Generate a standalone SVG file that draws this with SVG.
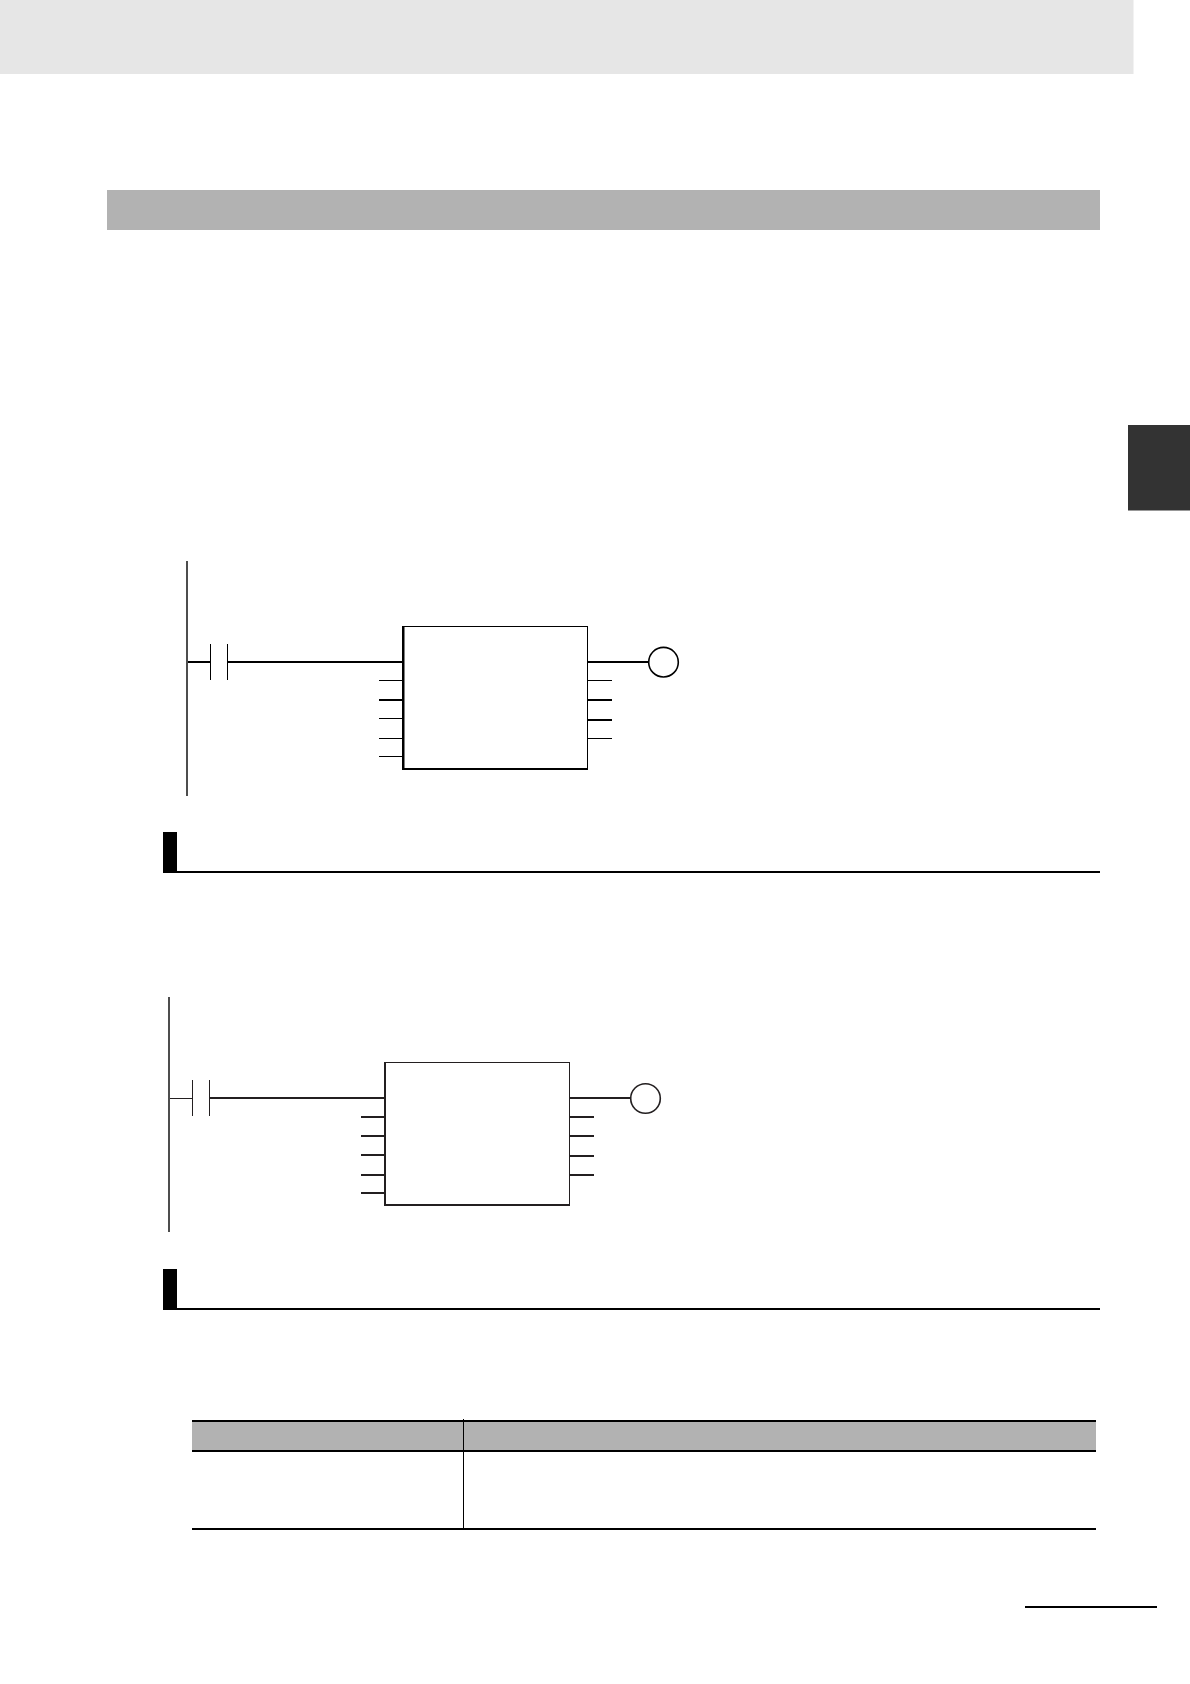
<svg xmlns="http://www.w3.org/2000/svg" width="1190" height="1684" viewBox="0 0 1190 1684">
<style>
.k{stroke:#000;fill:none}
.d{stroke:#231f20;fill:none}
.w1{stroke-width:1}
.w2{stroke-width:2}
.rail{stroke:#4d4d4d;stroke-width:2;fill:none}
.coil{fill:#fff;stroke-width:1.6}
.blk{fill:#000}
.band{fill:#b2b2b2}
</style>
<rect width="1190" height="1684" fill="#fff"/>
<rect id="header-band" x="0" y="0" width="1133.500" height="74" fill="#e6e6e6"/>
<rect id="section-band" class="band" x="107" y="190" width="993" height="40"/>
<rect id="side-tab" x="1128" y="425" width="62" height="85.500" fill="#333"/>

<g id="connectors">
<g id="wires-1">
<path class="k w2" d="M188 662H210M228 662H402M588 662H648"/>
<path class="k w1" d="M379 680.500H402M379 718.500H402M379 738.500H402M379 756.500H402M588 680.500H612M588 738.500H612"/>
<path class="k w2" d="M379 700H402M588 700H612M588 720H612"/>
</g>
<g id="wires-2">
<path class="d w1" d="M170 1098.500H192"/>
<path class="d w2" d="M210 1098H384M570 1098H630M361 1117H384M361 1136H384M361 1155H384M361 1175H384M361 1193H384M570 1117H594M570 1136H594M570 1156H594M570 1175H594"/>
</g>
</g>

<g id="rail-1"><path class="rail" d="M187 561V796"/></g>
<g id="contact-1"><path class="k w1" d="M210.500 644V680M227.500 644V680"/></g>
<g id="block-1">
<rect x="402" y="626" width="186" height="144" fill="#fff"/>
<path class="k" stroke-width="2.500" d="M403.250 627V770"/>
<path class="k w1" d="M402 626.500H588M587.500 626V770"/>
<path class="k w2" d="M402 769H588"/>
</g>
<g id="coil-1"><circle class="k coil" cx="663.500" cy="662.200" r="14.800"/></g>

<g id="heading-1">
<rect class="blk" x="163" y="832" width="14" height="41"/>
<rect class="blk" x="177" y="871" width="923" height="2"/>
</g>

<g id="rail-2"><path class="rail" d="M169 997V1232"/></g>
<g id="contact-2"><path class="d w1" d="M192.500 1080V1116M209.500 1080V1116"/></g>
<g id="block-2">
<rect x="384" y="1062" width="186" height="144" fill="#fff"/>
<path class="d w2" d="M385 1062V1206M384 1205H570"/>
<path class="d w1" d="M384 1062.500H570M569.500 1062V1206"/>
</g>
<g id="coil-2"><circle class="d coil" cx="645.500" cy="1098.500" r="14.800"/></g>

<g id="heading-2">
<rect class="blk" x="163" y="1269" width="14" height="41"/>
<rect class="blk" x="177" y="1308" width="923" height="2"/>
</g>

<g id="table">
<rect class="band" x="192" y="1422" width="904" height="28"/>
<rect class="blk" x="192" y="1420" width="904" height="2"/>
<rect class="blk" x="192" y="1450" width="904" height="2"/>
<rect class="blk" x="192" y="1528" width="904" height="2"/>
<rect class="blk" x="463" y="1419" width="1" height="109"/>
</g>

<rect id="footer-rule" class="blk" x="1025" y="1606" width="132" height="2"/>
</svg>
